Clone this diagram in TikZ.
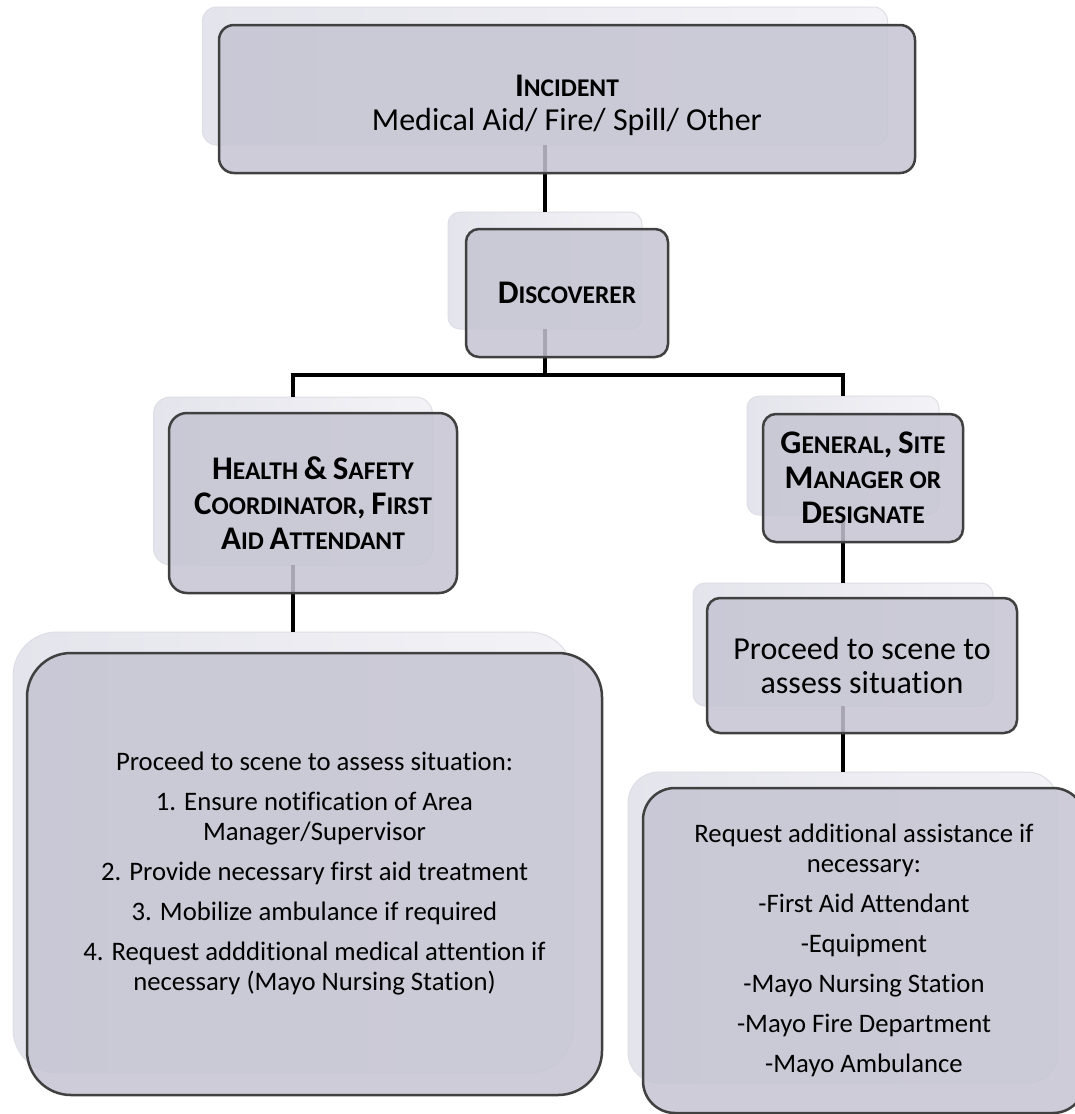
\documentclass[tikz,border=0pt]{standalone}
\usepackage{fontspec}
\setmainfont{Carlito}[Ligatures=NoCommon]
\definecolor{mainfill}{RGB}{197,196,210}
\definecolor{mainline}{RGB}{64,64,64}
\definecolor{shfill}{RGB}{243,243,247}
\definecolor{shleft}{RGB}{228,228,236}
\definecolor{shline}{RGB}{222,222,230}
\newcommand\bc[1]{{\fontsize{33}{35}\selectfont #1}}
\begin{document}
\begin{tikzpicture}[x=1pt,y=-1pt,
  shbox/.style={draw=shline, left color=shleft, right color=shfill, line width=1pt, inner sep=0pt, outer sep=0pt},
  mbox/.style={draw=mainline, line width=2.5pt, fill=mainfill, fill opacity=0.85, text opacity=1,
               inner sep=0pt, outer sep=0pt, align=center},
  headtxt/.style={font=\bfseries\fontsize{25.5}{35}\selectfont},
  bodytxt/.style={font=\fontsize{26.7}{30}\selectfont},
  bigtxt/.style={font=\fontsize{32}{34}\selectfont},
  conn/.style={draw=black, line width=4pt}]
\clip (0,0) rectangle (1075,1114);
\fill[white] (0,0) rectangle (1075,1114);
% shadow (back) boxes
\node[shbox, minimum width=685, minimum height=138, rounded corners=14] (incS) at (545,76) {};
\node[shbox, minimum width=194, minimum height=117, rounded corners=12] (discS) at (545,270.5) {};
\node[shbox, minimum width=279, minimum height=168, rounded corners=17] (hsS) at (293,481) {};
\node[shbox, minimum width=192, minimum height=119, rounded corners=12] (genS) at (843,455.5) {};
\node[shbox, minimum width=560, minimum height=441, rounded corners=44] (leftS) at (293,852.5) {};
\node[shbox, minimum width=300, minimum height=123, rounded corners=12] (procS) at (843,644.5) {};
\node[shbox, minimum width=430, minimum height=311, rounded corners=31] (reqS) at (843,927.5) {};
% connectors
\coordinate (bar) at (0,375);
\draw[conn] (incS.south) -- (incS.south |- discS.north);
\draw[conn] (discS.south) -- (discS.south |- bar);
\draw[conn, line join=miter] (hsS.north) -- (hsS.north |- bar) -- (genS.north |- bar) -- (genS.north);
\draw[conn] (hsS.south) -- (leftS.north);
\draw[conn] (genS.south) -- (procS.north);
\draw[conn] (procS.south) -- (reqS.north);
% main boxes
\node[mbox, headtxt, minimum width=696, minimum height=148, rounded corners=15] (inc) at (567,99)
  {\rule{0pt}{35pt}\bc{I}NCIDENT\\[-1pt]{\mdseries\fontsize{32}{35}\selectfont Medical Aid/ Fire/ Spill/ Other}};
\node[mbox, headtxt, minimum width=202, minimum height=128, rounded corners=13] (disc) at (567,293)
  {\bc{D}ISCOVERER};
\node[mbox, headtxt, minimum width=288, minimum height=180, rounded corners=18] (hs) at (313,503)
  {\bc{H}EALTH \bc{\&} \bc{S}AFETY\\\bc{C}OORDINATOR\bc{,} \bc{F}IRST\\\bc{A}ID \bc{A}TTENDANT};
\node[mbox, headtxt, minimum width=200, minimum height=128, rounded corners=13] (gen) at (863,478)
  {\bc{G}ENERAL\bc{,} \bc{S}ITE\\\bc{M}ANAGER OR\\\bc{D}ESIGNATE};
\node[mbox, bodytxt, minimum width=575, minimum height=442, rounded corners=44] (left) at (314.5,874)
  {Proceed to scene to assess situation:\\[10pt]
   1. Ensure notification of Area\\
   Manager/Supervisor\\[10pt]
   2. Provide necessary first aid treatment\\[10pt]
   3. Mobilize ambulance if required\\[10pt]
   4. Request addditional medical attention if\\
   necessary (Mayo Nursing Station)};
\node[mbox, bigtxt, minimum width=310, minimum height=135, rounded corners=13] (proc) at (862,665.5)
  {Proceed to scene to\\assess situation};
\node[mbox, bodytxt, minimum width=442, minimum height=325, rounded corners=32] (req) at (864,950.5)
  {Request additional assistance if\\
   necessary:\\[10pt]
   -First Aid Attendant\\[10pt]
   -Equipment\\[10pt]
   -Mayo Nursing Station\\[10pt]
   -Mayo Fire Department\\[10pt]
   -Mayo Ambulance};
\end{tikzpicture}
\end{document}
